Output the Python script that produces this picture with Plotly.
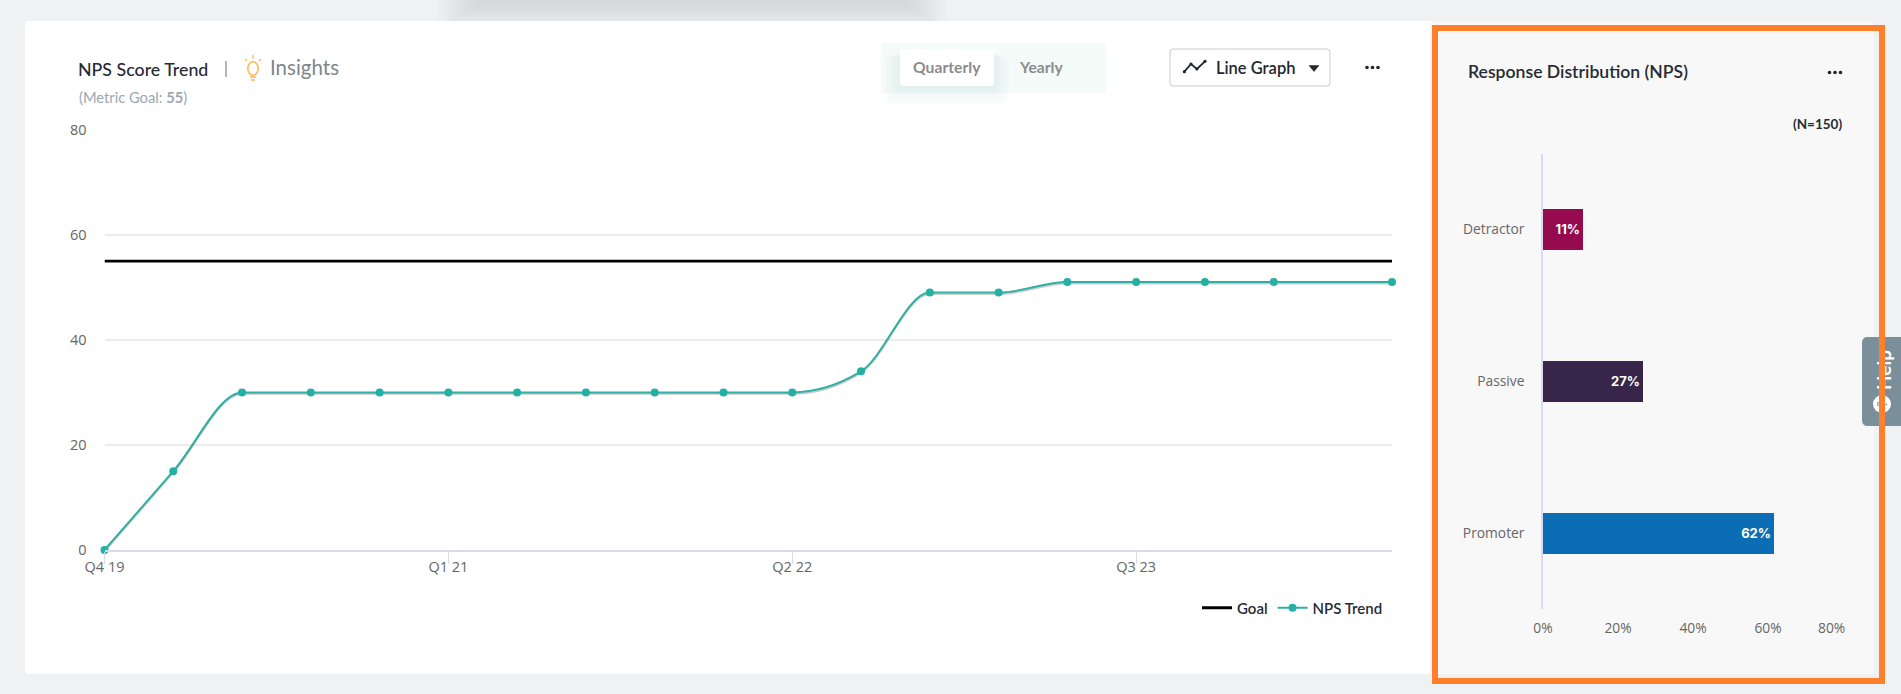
import plotly.graph_objects as go

# ---------- data ----------
trend_x = [0, 1, 2, 3, 4, 5, 6, 7, 8, 9, 10, 11, 12, 13, 14, 15, 16, 17, 18.72]
trend_values = [0, 15, 30, 30, 30, 30, 30, 30, 30, 30, 30, 34, 49, 49, 51, 51, 51, 51, 51]
goal_x = [0, 18.72]
goal_values = [55, 55]
trend_tickvals = [0, 5, 10, 15]
trend_ticktext = ["Q4 19", "Q1 21", "Q2 22", "Q3 23"]
y_ticks = [0, 20, 40, 60, 80]

categories = ["Detractor", "Passive", "Promoter"]
shares = [10.7, 26.7, 61.6]
share_labels = ["11%", "27%", "62%"]
share_ticks = [0, 20, 40, 60]
share_ticktext = ["0%", "20%", "40%", "60%"]
bar_colors = ["#960A50", "#38264A", "#0B6DB3"]

W, H = 1901, 694
def px(x): return x / W
def py(y): return 1 - y / H

TEAL = "#25B0A5"
TICKFONT = "Open Sans"
TITLEFONT = "Lato"
TICKCOLOR = "#666666"

shapes = []
def rect(x0, y0, x1, y1, fill, line=None, lw=0, layer="below", opacity=None, label=None):
    s = dict(type="rect", xref="paper", yref="paper", x0=px(x0), x1=px(x1), y0=py(y0), y1=py(y1),
             fillcolor=fill, line=dict(color=line or "rgba(0,0,0,0)", width=lw), layer=layer)
    if opacity is not None: s["opacity"] = opacity
    if label: s["label"] = label
    shapes.append(s)

def rrect(x0, y0, x1, y1, r, fill, line=None, lw=0, layer="below"):
    P = lambda x, y: f"{px(x):.6f},{py(y):.6f}"
    d = (f"M{P(x0+r,y0)} L{P(x1-r,y0)} Q{P(x1,y0)} {P(x1,y0+r)} L{P(x1,y1-r)} Q{P(x1,y1)} {P(x1-r,y1)} "
         f"L{P(x0+r,y1)} Q{P(x0,y1)} {P(x0,y1-r)} L{P(x0,y0+r)} Q{P(x0,y0)} {P(x0+r,y0)} Z")
    shapes.append(dict(type="path", xref="paper", yref="paper", path=d, fillcolor=fill,
                       line=dict(color=line or "rgba(0,0,0,0)", width=lw), layer=layer))

def poly(points, color, lw=1.5, fill=None, closed=False, layer="above"):
    d = "M" + " L".join(f"{px(x):.6f},{py(y):.6f}" for x, y in points) + (" Z" if closed else "")
    shapes.append(dict(type="path", xref="paper", yref="paper", path=d,
                       fillcolor=fill or "rgba(0,0,0,0)", line=dict(color=color, width=lw), layer=layer))

def circle(cx, cy, rx, ry, fill, line=None, lw=0, layer="above", label=None):
    s = dict(type="circle", xref="paper", yref="paper", x0=px(cx-rx), x1=px(cx+rx), y0=py(cy-ry), y1=py(cy+ry),
             fillcolor=fill, line=dict(color=line or "rgba(0,0,0,0)", width=lw), layer=layer)
    if label: s["label"] = label
    shapes.append(s)

# top blurred shadow of a floating element behind the page
for i in range(10):
    rect(438 + i*4.5, 0, 946 - i*4.5, 30 - i*3, "rgba(150,175,175,0.032)")

# panels
rrect(25, 21, 1440, 674, 4, "#FFFFFF")
rrect(1430, 21, 1874, 674, 4, "#F8F8F8")

# period toggle
rect(881, 43, 1106, 93, "#F4FBF9")
for i in range(6):
    rrect(900 - i*3, 52 + i, 994 + i*3, 88 + i*3.5, 5, "rgba(170,200,210,0.04)")
rrect(900, 49, 994, 86, 3, "#FFFFFF")

# dropdown
rrect(1170, 49, 1330, 86, 3, "#FFFFFF", "#C9CBCD", 1)
poly([(1184.4, 71.7), (1191, 64), (1196.9, 69), (1205, 61.3)], "#23272C", 1.8)
for cx, cy in [(1184.4, 71.7), (1191, 64), (1196.9, 69), (1205, 61.3)]:
    circle(cx, cy, 1.6, 1.6, "#23272C")
poly([(1309, 65.5), (1319, 65.5), (1314, 71.5)], "#23272C", 0.5, fill="#23272C", closed=True)

# "..." menus
for cx in (1367, 1372.5, 1378):
    circle(cx, 67.5, 1.8, 1.8, "#23272C")
for cx in (1829.5, 1835, 1840.5):
    circle(cx, 72.5, 1.8, 1.8, "#23272C")

# title divider and bulb icon
poly([(226, 61), (226, 77)], "#6B7075", 1)
ORANGE_BULB = "#FCB95B"
circle(253, 68.5, 5.2, 6.8, "rgba(0,0,0,0)", ORANGE_BULB, 1.6)
poly([(250, 77), (256, 77)], ORANGE_BULB, 1.6)
poly([(251, 80), (255, 80)], ORANGE_BULB, 1.6)
poly([(253, 55), (253, 59)], ORANGE_BULB, 1.3)
poly([(245, 59), (247, 61)], ORANGE_BULB, 1.3)
poly([(261, 59), (259, 61)], ORANGE_BULB, 1.3)

# help tab, below the frame
rrect(1862, 337, 1915, 426, 6, "#7A8F9A", layer="above")
shapes.append(dict(type="rect", xref="paper", yref="paper", x0=px(1868), x1=px(1898), y0=py(395), y1=py(345),
                   fillcolor="rgba(0,0,0,0)", line=dict(width=0), layer="above",
                   label=dict(text="Help", textangle=-90, textposition="middle center",
                              font=dict(family=TITLEFONT, size=19, color="#FFFFFF", weight=700))))
circle(1882, 404, 9, 9, "#FFFFFF", layer="above",
       label=dict(text="?", textangle=-90, textposition="middle center",
                  font=dict(family=TITLEFONT, size=13, color="#7A8F9A")))

# orange frame on top
rect(1435, 28, 1882, 681, "rgba(0,0,0,0)", "#FF7F2A", 6, layer="above")

# ---------- trend curve: monotone cubic through the data, drawn on the chart's own axes ----------
def monotone_path(xs, ys, dy=0.0):
    n = len(xs)
    h = [xs[i+1] - xs[i] for i in range(n-1)]
    s = [(ys[i+1] - ys[i]) / h[i] for i in range(n-1)]
    sign = lambda v: (v > 0) - (v < 0)
    t = [0.0] * n
    for i in range(1, n-1):
        p = (s[i-1] * h[i] + s[i] * h[i-1]) / (h[i-1] + h[i])
        t[i] = (sign(s[i-1]) + sign(s[i])) * min(abs(s[i-1]), abs(s[i]), 0.5 * abs(p))
    t[0] = (3 * s[0] - t[1]) / 2
    t[-1] = (3 * s[-1] - t[-2]) / 2
    d = f"M{xs[0]},{ys[0]+dy}"
    for i in range(n-1):
        c = h[i] / 3
        d += (f" C{xs[i]+c},{ys[i]+dy+t[i]*c} {xs[i+1]-c},{ys[i+1]+dy-t[i+1]*c} {xs[i+1]},{ys[i+1]+dy}")
    return d

for dy, col, lw in [(-0.3, "rgba(60,60,60,0.28)", 1.8), (0.0, "#30AEA4", 2)]:
    shapes.append(dict(type="path", xref="x", yref="y", path=monotone_path(trend_x, trend_values, dy),
                       fillcolor="rgba(0,0,0,0)", line=dict(color=col, width=lw), layer="between"))

# ---------- annotations ----------
ann = []
def text(x, y, s, size, color, family=TITLEFONT, anchor="left", weight=None):
    t = dict(xref="paper", yref="paper", x=px(x), y=py(y), text=s, showarrow=False, xanchor=anchor, yanchor="middle",
             font=dict(family=family, size=size, color=color), borderpad=0, borderwidth=0)
    if weight: t["font"]["weight"] = weight
    ann.append(t)

text(78, 69, "NPS Score Trend", 17.8, "#262B33", weight=500)
text(270, 67, "Insights", 20.5, "#80868B")
text(79, 97, "(Metric Goal: <b>55</b>)", 14.7, "#9AA7B2")
text(947, 67, "Quarterly", 15.7, "#8C8C8C", anchor="center", weight=700)
text(1041, 67, "Yearly", 15.7, "#8C8C8C", anchor="center", weight=700)
text(1216, 68, "Line Graph", 16.5, "#23272C", weight=600)
text(1468, 71, "Response Distribution (NPS)", 17.6, "#262B33", weight=600)
text(1842, 124, "(N=150)", 13.5, "#262B33", anchor="right", weight=700)
text(1831, 627, "80%", 13.8, TICKCOLOR, family=TICKFONT, anchor="center")

# ---------- figure ----------
fig = go.Figure()
fig.add_trace(go.Scatter(x=goal_x, y=goal_values, mode="lines", name="Goal",
                         line=dict(color="#000000", width=2.8), xaxis="x", yaxis="y", hoverinfo="skip"))
fig.add_trace(go.Scatter(x=[None], y=[None], mode="lines+markers", name="NPS Trend",
                         line=dict(color="#30AEA4", width=2), marker=dict(color=TEAL, size=8),
                         xaxis="x", yaxis="y", hoverinfo="skip"))
fig.add_trace(go.Scatter(x=trend_x, y=trend_values, mode="markers", name="NPS Trend", showlegend=False,
                         marker=dict(color=TEAL, size=8), cliponaxis=False, xaxis="x", yaxis="y"))
fig.add_trace(go.Bar(x=shares, y=categories, orientation="h", xaxis="x2", yaxis="y2", width=0.272,
                     marker=dict(color=bar_colors, line=dict(width=0)),
                     text=share_labels, textposition="inside", insidetextanchor="end", textangle=0,
                     constraintext="none",
                     insidetextfont=dict(family="Inter", size=13, color="#FFFFFF", weight=700),
                     showlegend=False))

fig.update_layout(
    template="none",
    width=W, height=H, autosize=False,
    margin=dict(l=0, r=0, t=0, b=0, pad=0),
    paper_bgcolor="#EFF1F3", plot_bgcolor="rgba(0,0,0,0)",
    shapes=shapes, annotations=ann, bargap=0,
    legend=dict(orientation="h", x=px(1388), xanchor="right", y=py(608), yanchor="middle",
                bgcolor="rgba(0,0,0,0)", font=dict(family=TITLEFONT, size=15, color="#262B33", weight=600),
                itemwidth=30, traceorder="normal"),
    xaxis=dict(domain=[px(104.5), px(1392)], range=[0, 18.72], tickvals=trend_tickvals, ticktext=trend_ticktext,
               showgrid=False, zeroline=False, showline=True, linecolor="#D7DBED", linewidth=1.5,
               ticks="outside", ticklen=12, tickcolor="#D7DBED", tickwidth=1, automargin=False,
               ticklabelstandoff=-9,
               tickfont=dict(family=TICKFONT, size=14.5, color=TICKCOLOR), anchor="y"),
    yaxis=dict(domain=[py(550), py(129.7)], range=[0, 80], tickvals=y_ticks, showgrid=True, gridcolor="#ECECEC",
               gridwidth=1.5, zeroline=False, showline=False, ticks="", ticklabelstandoff=17, automargin=False,
               tickfont=dict(family=TICKFONT, size=14.5, color=TICKCOLOR), anchor="x"),
    xaxis2=dict(domain=[px(1543), px(1843)], range=[0, 80], tickvals=share_ticks, ticktext=share_ticktext,
                showgrid=False, zeroline=False, showline=False, ticks="", ticklabelstandoff=9, automargin=False,
                tickfont=dict(family=TICKFONT, size=13.8, color=TICKCOLOR), anchor="y2"),
    yaxis2=dict(domain=[py(608.7), py(153.7)], autorange="reversed", showgrid=False, zeroline=False,
                showline=True, linecolor="#D7DBED", linewidth=1.5, ticks="", ticklabelstandoff=14, automargin=False,
                tickfont=dict(family=TICKFONT, size=13.8, color=TICKCOLOR), anchor="x2"),
)

fig.write_html("out.html", config=dict(displayModeBar=False),
               post_script="document.body.style.margin='0';document.body.style.overflow='hidden';")
